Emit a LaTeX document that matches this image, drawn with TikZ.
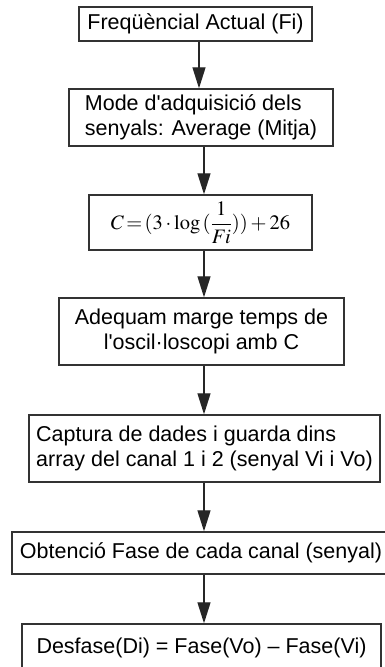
\documentclass[tikz,border=0pt]{standalone}
\usepackage{mathptmx}
\usepackage[no-math]{fontspec}
\setmainfont{Liberation Sans}
\usetikzlibrary{arrows.meta}
\begin{document}
\begin{tikzpicture}[x=1pt,y=1pt,
  box/.style={draw=black!80, line width=1.4pt, inner sep=0pt, fill=white,
    font=\fontsize{21.5}{25}\selectfont},
  arr/.style={draw=black!85, line width=1.3pt, -{Triangle[length=21pt,width=13pt]}}]
\useasboundingbox (0,0) rectangle (384,-667);
\node[box, minimum width=233pt, minimum height=34pt] (b1) at (195.5,-24) {Freqüèncial Actual (Fi)};
\node[box, minimum width=264pt, minimum height=57pt, align=left] (b2) at (201,-117.5) {Mode d\textquotesingle adquisició dels\\senyals: Average (Mitja)};
\node[box, minimum width=223pt, minimum height=55pt] (b3) at (200.5,-222.5)
  {\fontsize{20.5}{24}\selectfont$\displaystyle C\,{=}\,(3\cdot\log\,(\frac{1}{Fi}))+26$};
\node[box, minimum width=285pt, minimum height=67pt, align=center] (b4) at (201.5,-331.5) {Adequam marge temps de\\l\textquotesingle oscil·loscopi amb C};
\node[box, minimum width=351pt, minimum height=67pt, align=left] (b5) at (204.5,-448.5) {Captura de dades i guarda dins\\array del canal 1 i 2 (senyal Vi i Vo)};
\node[box, minimum width=378pt, minimum height=42pt] (b6) at (201,-553) {Obtenció Fase de cada canal (senyal)};
\node[box, minimum width=359pt, minimum height=48pt] (b7) at (201.5,-648) {Desfase(Di) = Fase(Vo) – Fase(Vi)};
\draw[arr] ([xshift=3.5pt]b1.south) -- ([xshift=-2pt]b2.north);
\draw[arr] ([xshift=3pt]b2.south) -- ([xshift=3.5pt]b3.north);
\draw[arr] ([xshift=3.5pt]b3.south) -- ([xshift=2.5pt]b4.north);
\draw[arr] ([xshift=2.5pt]b4.south) -- ([xshift=-0.5pt]b5.north);
\draw[arr] ([xshift=-0.5pt]b5.south) -- ([xshift=3pt]b6.north);
\draw[arr] ([xshift=3pt]b6.south) -- ([xshift=2.5pt]b7.north);
\end{tikzpicture}
\end{document}
